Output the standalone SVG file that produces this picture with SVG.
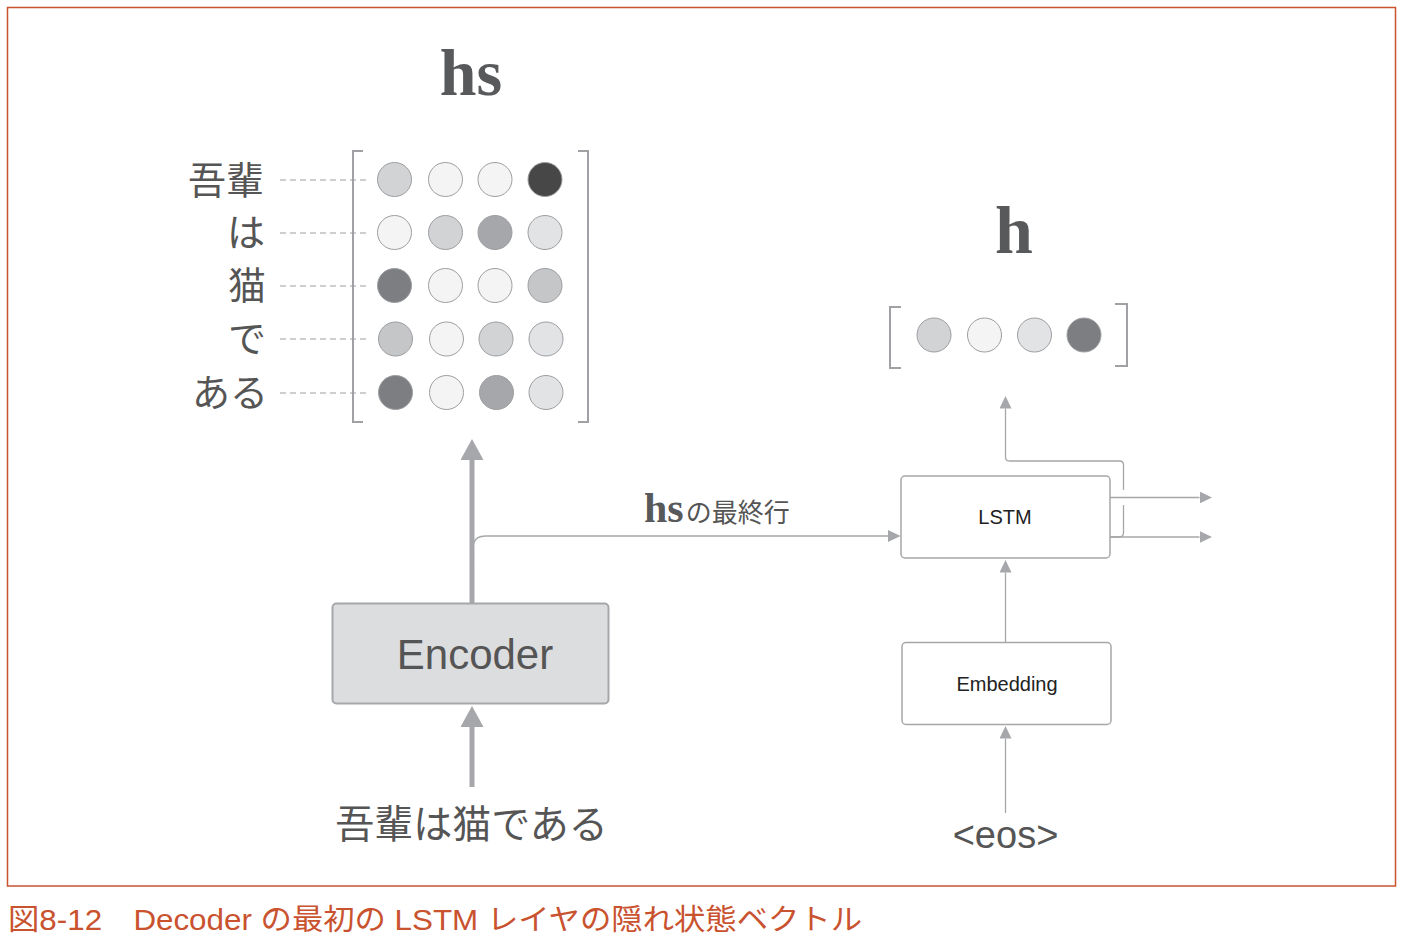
<svg xmlns="http://www.w3.org/2000/svg" width="1420" height="948" viewBox="0 0 1420 948">
<style>
.lbl{font-family:"Liberation Sans","Noto Sans CJK JP",sans-serif;fill:#555;}
.ser{font-family:"Liberation Serif","DejaVu Serif",serif;font-weight:bold;fill:#58595b;}
.box{fill:#fff;stroke:#a6a7aa;stroke-width:1.5;}
.dash{stroke:#9d9ea1;stroke-width:1;stroke-dasharray:6,4;fill:none;}
.brk{fill:none;stroke:#a0a1a4;stroke-width:2;}
.c{stroke:#9d9ea1;stroke-width:1;}
.thin{fill:none;stroke:#a6a7aa;stroke-width:1.3;}
.thick{fill:none;stroke:#a6a7aa;stroke-width:5;}
.c0{fill:#f4f4f4}.c1{fill:#e2e3e4}.c2{fill:#d2d3d5}.c3{fill:#c5c6c8}.c4{fill:#a6a7aa}.c5{fill:#7d7e82}.c6{fill:#474747}
</style>
<defs>
<marker id="ah" markerUnits="userSpaceOnUse" markerWidth="13" markerHeight="12" refX="0" refY="6" orient="auto"><path d="M0,0 L12.5,6 L0,12 z" fill="#a6a7aa"/></marker>
<marker id="ahb" markerUnits="userSpaceOnUse" markerWidth="22" markerHeight="23" refX="0" refY="11.5" orient="auto"><path d="M0,0 L21,11.5 L0,23 z" fill="#a6a7aa"/></marker>
</defs>
<rect x="7.5" y="7.5" width="1388" height="878.5" fill="none" stroke="#c9522f" stroke-width="1.5"/>

<g id="hs-matrix">
<text class="ser" x="471" y="95" font-size="66" text-anchor="middle">hs</text>
<path class="brk" d="M363,151 L353,151 L353,422 L363,422"/>
<path class="brk" d="M578,151 L588,151 L588,422 L578,422"/>
<g class="c">
<circle class="c2" cx="394.5" cy="179.5" r="17"/><circle class="c0" cx="445.5" cy="179.5" r="17"/><circle class="c0" cx="495" cy="179.5" r="17"/><circle class="c6" cx="545" cy="179.5" r="17"/>
<circle class="c0" cx="394.5" cy="232.5" r="17"/><circle class="c2" cx="445.5" cy="232.5" r="17"/><circle class="c4" cx="495" cy="232.5" r="17"/><circle class="c1" cx="545" cy="232.5" r="17"/>
<circle class="c5" cx="394.5" cy="285.5" r="17"/><circle class="c0" cx="445.5" cy="285.5" r="17"/><circle class="c0" cx="495" cy="285.5" r="17"/><circle class="c3" cx="545" cy="285.5" r="17"/>
<circle class="c3" cx="395.5" cy="339" r="17"/><circle class="c0" cx="446.5" cy="339" r="17"/><circle class="c2" cx="496" cy="339" r="17"/><circle class="c1" cx="546" cy="339" r="17"/>
<circle class="c5" cx="395.5" cy="392.5" r="17"/><circle class="c0" cx="446.5" cy="392.5" r="17"/><circle class="c4" cx="496.5" cy="392.5" r="17"/><circle class="c1" cx="546" cy="392.5" r="17"/>
</g>
<g class="lbl" font-size="38" text-anchor="end">
<text x="264" y="194">吾輩</text>
<text x="265" y="246">は</text>
<text x="266" y="299">猫</text>
<text x="266" y="352">で</text>
<text x="268" y="406">ある</text>
</g>
<path class="dash" d="M280,180 H366 M280,233 H366 M280,286 H366 M280,339 H366 M280,393 H366"/>
</g>

<g id="h-vector">
<text class="ser" x="1014" y="253" font-size="68" text-anchor="middle">h</text>
<path class="brk" d="M901,307 L890,307 L890,368 L901,368"/>
<path class="brk" d="M1115,304 L1127,304 L1127,366 L1115,366"/>
<g class="c">
<circle class="c2" cx="934" cy="335" r="17"/><circle class="c0" cx="984.5" cy="335" r="17"/><circle class="c1" cx="1034.5" cy="335" r="17"/><circle class="c5" cx="1084" cy="335" r="17"/>
</g>
</g>

<g id="encoder">
<rect x="332.5" y="603.5" width="276" height="100" rx="4" fill="#dcdddf" stroke="#a6a7aa" stroke-width="2"/>
<text class="lbl" x="475" y="669" font-size="42" text-anchor="middle">Encoder</text>
</g>

<g id="lstm">
<rect class="box" x="901" y="476" width="209" height="82" rx="4"/>
<text x="1005" y="524" font-size="20" text-anchor="middle" font-family="Liberation Sans, sans-serif" fill="#222">LSTM</text>
</g>

<g id="embedding">
<rect class="box" x="902" y="642.5" width="209" height="82" rx="4"/>
<text x="1007" y="691" font-size="20" text-anchor="middle" font-family="Liberation Sans, sans-serif" fill="#222">Embedding</text>
</g>

<g id="input-text">
<text class="lbl" x="471.5" y="838" font-size="39" text-anchor="middle">吾輩は猫である</text>
</g>
<g id="eos">
<text class="lbl" x="1005.5" y="848" font-size="38" text-anchor="middle">&lt;eos&gt;</text>
</g>

<g id="connectors">
<path class="thick" d="M472,603 L472,460" marker-end="url(#ahb)"/>
<path class="thick" d="M472,787 L472,727" marker-end="url(#ahb)"/>
<path class="thin" d="M473,565 L473,548 Q473,536 486,536 L888,536" marker-end="url(#ah)"/>
<path class="thin" d="M1005.5,642 L1005.5,572.5" marker-end="url(#ah)"/>
<path class="thin" d="M1005.5,813 L1005.5,738.5" marker-end="url(#ah)"/>
<path class="thin" d="M1110,497.5 L1199.5,497.5" marker-end="url(#ah)"/>
<path class="thin" d="M1110,537 L1199.5,537" marker-end="url(#ah)"/>
<path class="thin" d="M1110,537 L1119,537 Q1123.5,537 1123.5,532.5 L1123.5,505 M1123.5,490 L1123.5,465 Q1123.5,461 1119.5,461 L1009.5,461 Q1005.5,461 1005.5,457 L1005.5,408.5" marker-end="url(#ah)"/>
<text x="644" y="522" font-size="42" class="ser">hs<tspan class="lbl" font-family="Liberation Sans, Noto Sans CJK JP, sans-serif" font-weight="normal" font-size="26" dx="2">の最終行</tspan></text>
</g>

<text x="8" y="930" font-size="29" fill="#c9522f" font-family="Liberation Sans, Noto Sans CJK JP, sans-serif" textLength="854" lengthAdjust="spacingAndGlyphs">図8-12　Decoder の最初の LSTM レイヤの隠れ状態ベクトル</text>
</svg>
